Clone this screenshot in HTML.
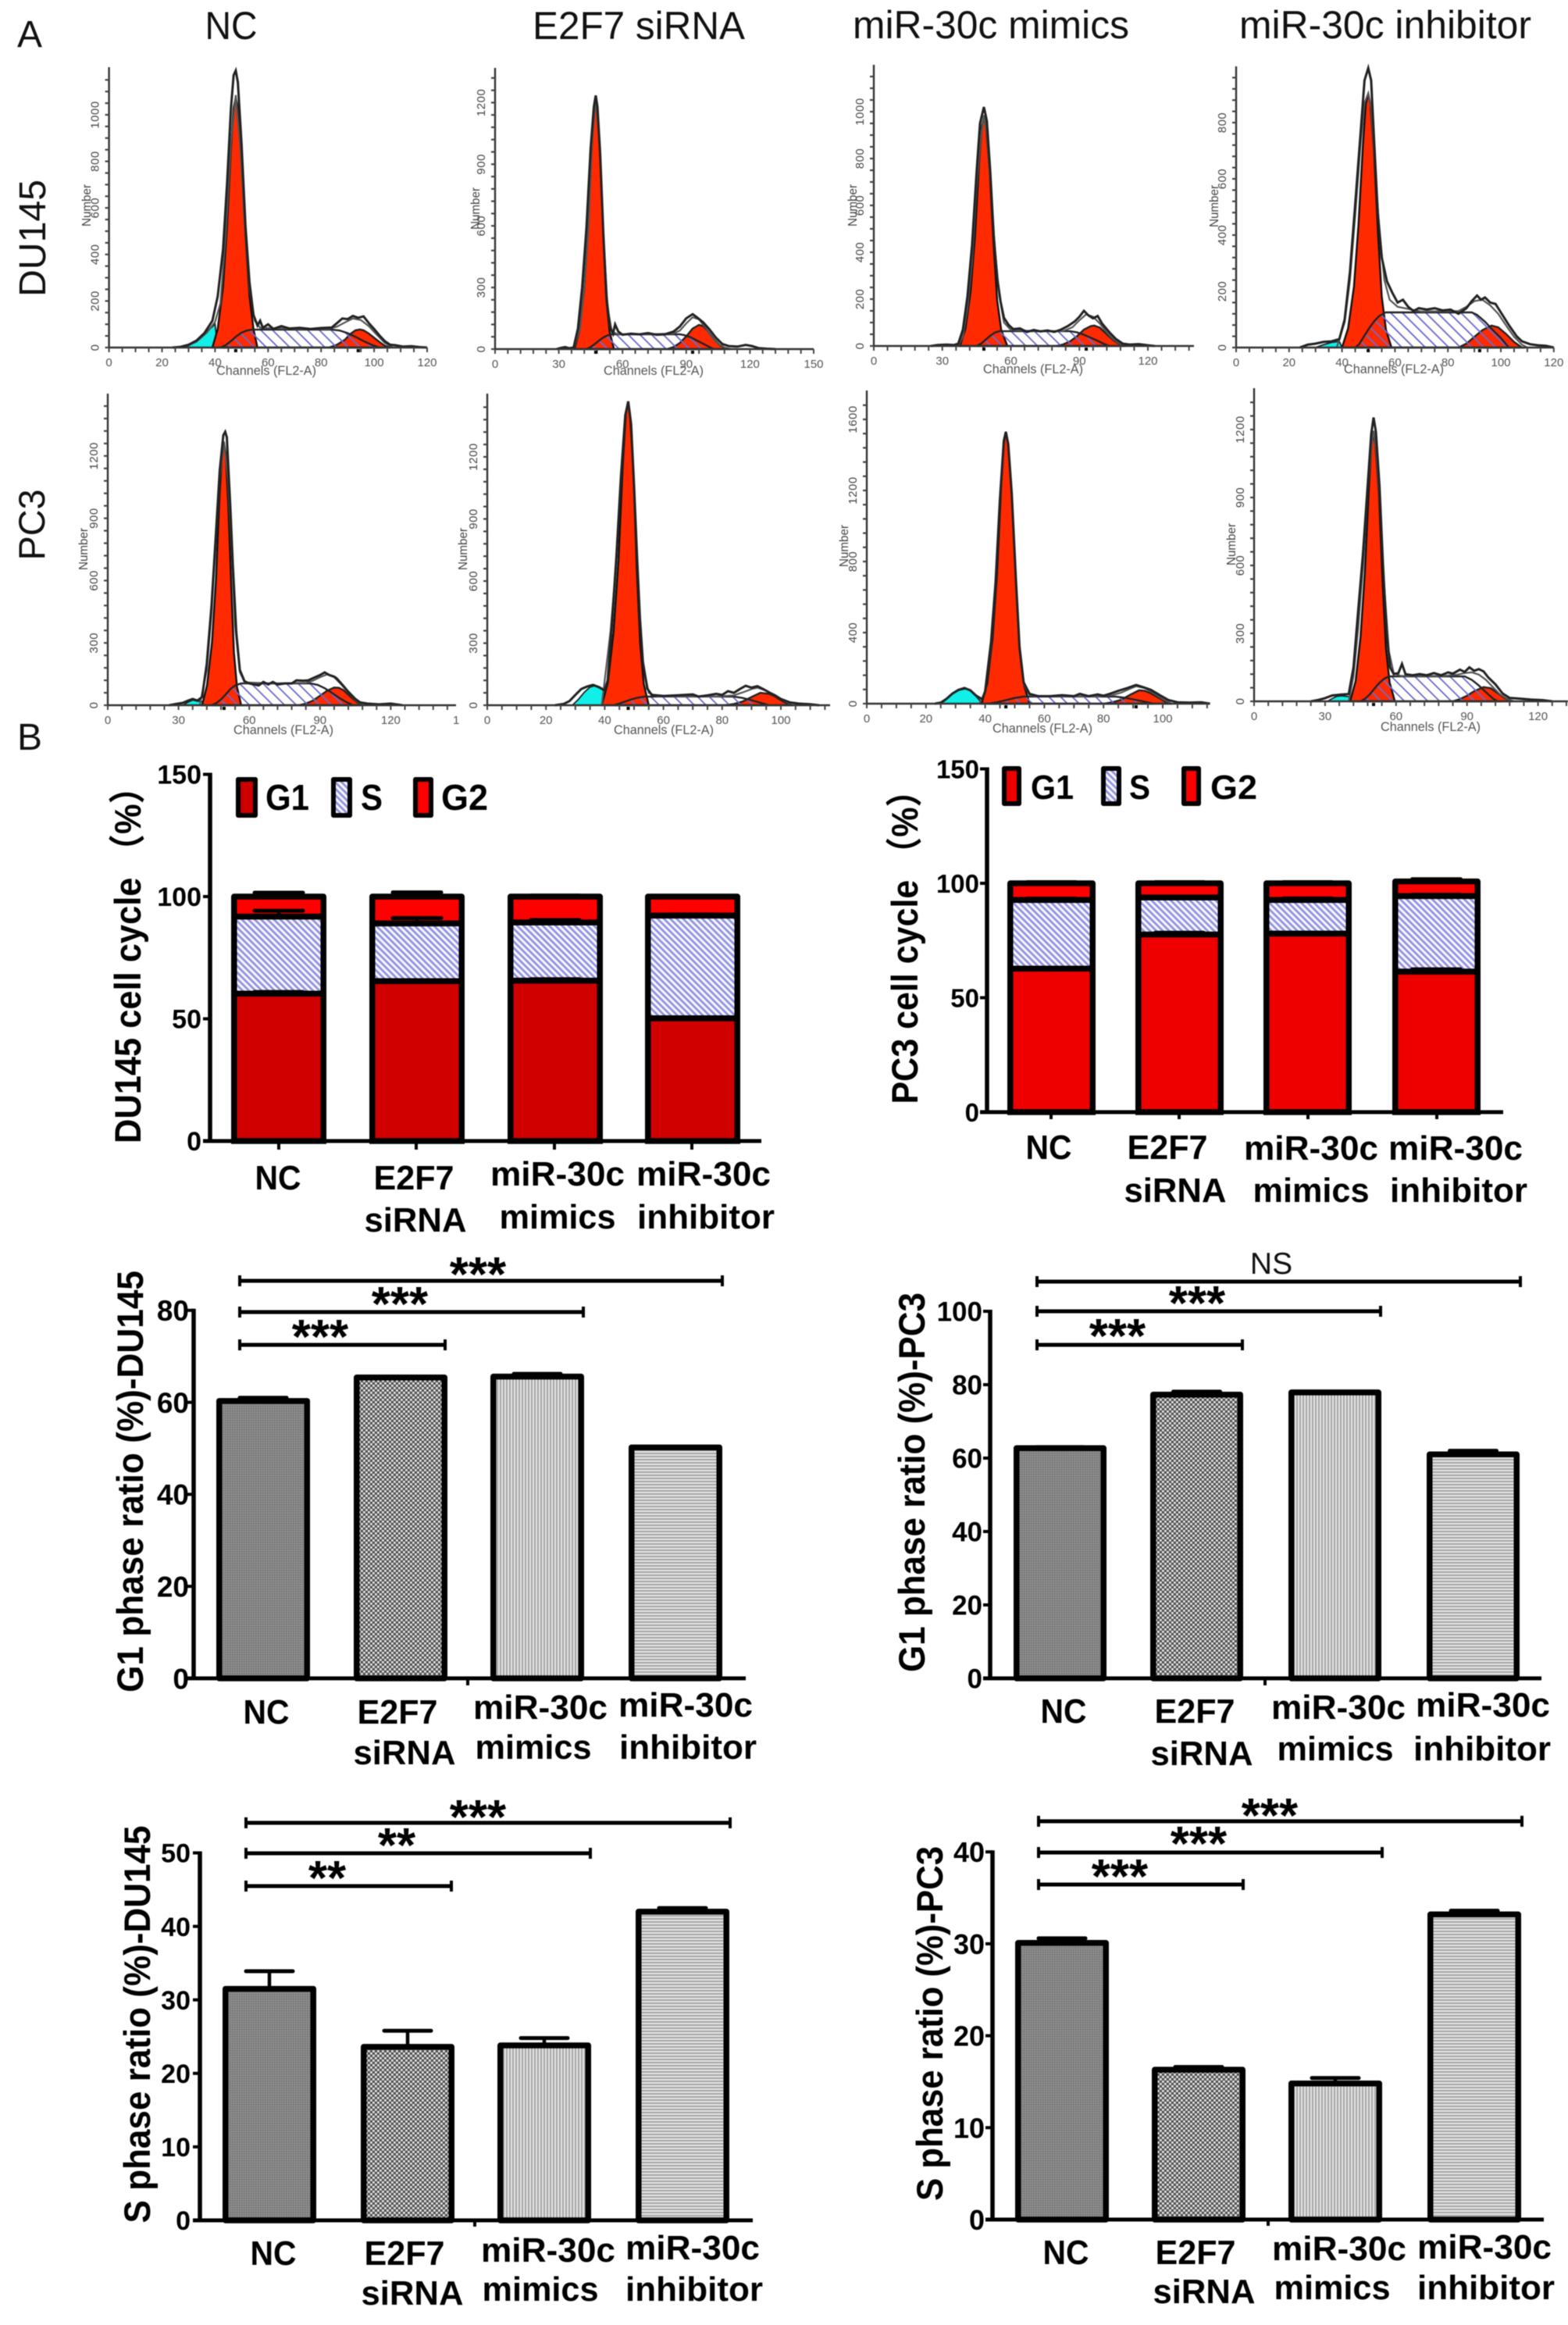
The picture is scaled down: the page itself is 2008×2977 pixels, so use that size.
<!DOCTYPE html>
<html lang="en">
<head>
<meta charset="utf-8">
<title>Cell cycle analysis figure</title>
<style>
html,body{margin:0;padding:0;background:#fff;}
svg{display:block;font-family:"Liberation Sans","Noto Sans CJK SC",sans-serif;filter:blur(0.6px);}
</style>
</head>
<body>
<svg id="figure" xmlns="http://www.w3.org/2000/svg" width="2008" height="2977" viewBox="0 0 2008 2977">
<defs>
<pattern id="hatchS" patternUnits="userSpaceOnUse" width="5.8" height="5.8" patternTransform="rotate(-45)">
<rect width="5.8" height="5.8" fill="#f6f6fe"/><rect width="2.7" height="5.8" fill="#9090e0"/>
</pattern>
<pattern id="histHatch" patternUnits="userSpaceOnUse" width="10.6" height="10.6" patternTransform="rotate(-45)">
<rect width="1.8" height="10.6" fill="#6a6ad0"/>
</pattern>
<pattern id="barDark" patternUnits="userSpaceOnUse" width="3" height="3">
<rect width="3" height="3" fill="#8c8c8c"/><rect width="1.5" height="1.5" fill="#6c6c6c"/>
</pattern>
<pattern id="barCheck" patternUnits="userSpaceOnUse" width="6" height="6">
<rect width="6" height="6" fill="#505050"/><rect width="2.8" height="2.8" fill="#e6e6e6"/><rect x="3" y="3" width="2.8" height="2.8" fill="#e6e6e6"/>
</pattern>
<pattern id="barVert" patternUnits="userSpaceOnUse" width="4" height="4">
<rect width="4" height="4" fill="#e6e6e6"/><rect width="2" height="4" fill="#a4a4a4"/>
</pattern>
<pattern id="barHoriz" patternUnits="userSpaceOnUse" width="4" height="4">
<rect width="4" height="4" fill="#e6e6e6"/><rect width="4" height="2" fill="#a4a4a4"/>
</pattern>
</defs>
<rect width="2008" height="2977" fill="#fff"/>

<text x="22" y="60" font-size="48" fill="#111">A</text>
<text x="22" y="960" font-size="48" fill="#111">B</text>
<text x="296" y="50" font-size="50" text-anchor="middle" fill="#111" textLength="67" lengthAdjust="spacingAndGlyphs">NC</text>
<text x="818" y="50" font-size="50" text-anchor="middle" fill="#111" textLength="272" lengthAdjust="spacingAndGlyphs">E2F7 siRNA</text>
<text x="1269" y="49" font-size="50" text-anchor="middle" fill="#111" textLength="354" lengthAdjust="spacingAndGlyphs">miR-30c mimics</text>
<text x="1774" y="49" font-size="50" text-anchor="middle" fill="#111" textLength="374" lengthAdjust="spacingAndGlyphs">miR-30c inhibitor</text>
<text transform="translate(58 305) rotate(-90)" font-size="48" text-anchor="middle" fill="#111" textLength="150" lengthAdjust="spacingAndGlyphs">DU145</text>
<text transform="translate(57 672) rotate(-90)" font-size="47" text-anchor="middle" fill="#111" textLength="91" lengthAdjust="spacingAndGlyphs">PC3</text>

<g>
<rect x="305" y="998" width="22" height="46" fill="#cc0000" stroke="#000" stroke-width="6" stroke-linejoin="round"/>
<text x="340" y="1037" font-size="46" font-weight="bold" textLength="56" lengthAdjust="spacingAndGlyphs">G1</text>
<rect x="427" y="998" width="21" height="46" fill="url(#hatchS)" stroke="#000" stroke-width="6" stroke-linejoin="round"/>
<text x="462" y="1037" font-size="46" font-weight="bold" textLength="28" lengthAdjust="spacingAndGlyphs">S</text>
<rect x="532" y="998" width="20" height="46" fill="#ff0000" stroke="#000" stroke-width="6" stroke-linejoin="round"/>
<text x="565" y="1037" font-size="46" font-weight="bold" textLength="60" lengthAdjust="spacingAndGlyphs">G2</text>
</g>
<g>
<rect x="1286" y="984" width="19" height="45" fill="#ee0000" stroke="#000" stroke-width="6" stroke-linejoin="round"/>
<text x="1320" y="1023" font-size="44" font-weight="bold" textLength="55" lengthAdjust="spacingAndGlyphs">G1</text>
<rect x="1413" y="984" width="20" height="45" fill="url(#hatchS)" stroke="#000" stroke-width="6" stroke-linejoin="round"/>
<text x="1446" y="1023" font-size="44" font-weight="bold" textLength="27" lengthAdjust="spacingAndGlyphs">S</text>
<rect x="1516" y="984" width="19" height="45" fill="#ff0000" stroke="#000" stroke-width="6" stroke-linejoin="round"/>
<text x="1550" y="1023" font-size="44" font-weight="bold" textLength="60" lengthAdjust="spacingAndGlyphs">G2</text>
</g>
</svg>

<script>
// ---- Bar chart data ----
const categoryLines = ['NC','E2F7','siRNA','miR-30c','mimics','miR-30c','inhibitor'];
const stackTicks = [0,50,100,150];
const g1DuTicks = [0,20,40,60,80];
const g1PcTicks = [0,20,40,60,80,100];
const sDuTicks = [0,10,20,30,40,50];
const sPcTicks = [0,10,20,30,40];

const duG1 = [60.3,65.4,65.6,50.2];
const duG1Err = [0.7,0.2,0.6,0.1];
const duS = [31.5,23.6,23.8,42];
const duSErr = [2.4,2.2,1,0.5];
const duG2 = [8.2,11,10.6,7.8];
const duG2Err = [1.6,1.7,0.4,0.3];

const pcG1 = [62.7,77.6,78,61.4];
const pcG1Err = [0.3,0.8,0.1,1];
const pcS = [30,16.2,14.7,33];
const pcSErr = [0.6,0.4,0.7,0.6];
const pcG2 = [7.3,6.2,7.3,6.4];
const pcG2Err = [0.5,0.5,0.5,1];

const g1DuValues = [60.3,65.4,65.6,50.2];
const g1DuErrors = [0.7,0.2,0.6,0];
const g1PcValues = [62.7,77.3,77.9,61];
const g1PcErrors = [0.3,0.8,0.1,1];
const sDuValues = [31.5,23.6,23.8,42];
const sDuErrors = [2.4,2.2,1,0.5];
const sPcValues = [30.1,16.3,14.8,33.2];
const sPcErrors = [0.5,0.3,0.6,0.4];

// ---- Flow histogram data: [channel, count] ----
const p1Cyan = [[28.7,0],[30,8],[32,20],[34,40],[36,60],[38,80],[40,100],[41,0]];
const p1G1 = [[39,0],[41,80],[43,260],[44.5,520],[46,860],[47,1030],[47.8,1073],[48.6,1030],[50,830],[51.5,480],[53,220],[54.5,80],[56,0]];
const p1S = [[42,0],[44,10],[46,28],[48,48],[50,64],[52,73],[54,77],[70,77],[84,77],[87,73],[90,62],[93,46],[96,28],[99,12],[102,0]];
const p1G2 = [[83,0],[86,12],[89,34],[91,58],[93,74],[94.6,78],[96,74],[98,60],[100,42],[102,24],[104,8],[106,0]];
const p1Fit = [[28,0],[33,25],[37,65],[40,110],[42,190],[44,480],[46,880],[47.8,1085],[49.5,860],[51,560],[53,250],[55,115],[57,85],[70,80],[83,80],[86,90],[89,108],[92,125],[95,118],[98,92],[101,55],[104,20],[107,0]];
const p1Raw = [[24,0],[27,3],[30,12],[33,30],[36,62],[39,115],[41,220],[43,420],[44.5,700],[46,1030],[47,1170],[47.8,1190],[48.6,1140],[50,870],[51.5,520],[53,280],[54.5,140],[56,95],[57,115],[58,85],[60,100],[62,80],[65,92],[68,82],[72,85],[76,80],[80,84],[84,86],[86,105],[88,125],[90,122],[92,136],[94,128],[96,134],[98,105],[100,80],[102,52],[104,28],[106,12],[108,10],[111,4],[114,6],[117,2],[120,0]];
const p1Marks = [47.8,94];

const p2Cyan = [[30,0],[32,10],[34,8],[36,3]];
const p2G1 = [[37.4,0],[39.7,91],[41.9,291],[43.7,582],[45.4,970],[46.5,1164],[47.4,1213],[48.2,1164],[49.5,934],[51,546],[52.4,243],[53.9,85],[56,0]];
const p2S = [[43,0],[45,10],[47,25],[49,42],[51,57],[53,67],[55,72],[70,72],[87,72],[89,68],[92,58],[95,42],[98,26],[101,10],[103,0]];
const p2G2 = [[81,0],[84,10],[87,30],[90,62],[93,100],[96,118],[98,112],[100,90],[103,50],[106,18],[109,0]];
const p2Fit = [[37,0],[40,100],[42,300],[44,600],[45.5,990],[47.4,1225],[49.5,940],[51,555],[53,200],[55,85],[58,72],[72,72],[84,76],[87,90],[90,125],[93,155],[96,145],[99,105],[102,60],[105,25],[108,8],[111,0]];
const p2Raw = [[29,0],[31,6],[33,10],[35,4],[37,8],[39,100],[41,300],[43,590],[45,980],[46.5,1180],[47.4,1235],[48.2,1180],[49.5,950],[51,560],[52.4,260],[54,110],[55.5,75],[56.5,120],[58,85],[60,70],[64,75],[68,72],[72,78],[76,70],[80,72],[84,85],[87,110],[90,150],[93,170],[95,155],[98,130],[101,95],[104,55],[107,25],[110,15],[114,12],[118,20],[121,15],[124,5],[128,2],[132,0]];
const p2Marks = [47.4,93];

const p3Cyan = [[30,0],[32,5],[35,4],[37,0]];
const p3G1 = [[37.7,0],[40.1,73],[42.4,234],[44.3,469],[46.1,782],[47.3,938],[48.2,977],[49.1,938],[50.7,752],[52.4,440],[54,195],[55.8,68],[58.5,0]];
const p3S = [[45,0],[47,10],[49,27],[51,44],[53,57],[55,63],[70,63],[86,63],[89,58],[92,48],[95,35],[98,22],[101,8],[103,0]];
const p3G2 = [[80,0],[83,7],[86,20],[89,42],[92,70],[95,85],[96.5,87],[99,78],[102,50],[105,24],[108,6],[110,0]];
const p3Fit = [[37,0],[39,40],[41,160],[43,360],[45,680],[47,900],[48.2,985],[49.5,900],[51,700],[53,420],[55,210],[57,100],[60,68],[72,63],[83,64],[87,80],[90,110],[93,135],[96,125],[99,95],[102,58],[105,28],[108,8],[111,0]];
const p3Raw = [[25,0],[28,4],[32,6],[35,4],[37,10],[39,70],[41,210],[43,430],[45,740],[46.5,950],[48.2,1020],[49.5,960],[51,740],[52.5,470],[54,290],[55.5,190],[57,120],[59,90],[61,72],[64,75],[67,60],[70,68],[73,62],[76,66],[79,60],[82,70],[85,85],[88,105],[90,125],[92,150],[94,130],[96,118],[98,128],[100,95],[103,60],[106,30],[109,10],[112,6],[116,8],[120,3],[123,0]];
const p3Marks = [48.2,93];

const p4Cyan = [[30,0],[33,10],[36,18],[39,22],[40,0]];
const p4G1 = [[40,0],[42.3,68],[44.5,217],[46.2,433],[47.9,722],[49,867],[49.9,903],[50.7,867],[52.1,695],[53.6,406],[55,181],[56.6,63],[58.7,0]];
const p4S = [[45,0],[46.5,12],[48,35],[50,65],[52,92],[54,112],[56.5,125],[72,125],[89,125],[91,116],[94,92],[97,62],[100,34],[103,0]];
const p4G2 = [[84,0],[87,14],[90,38],[93,62],[96.5,78],[99,72],[102,48],[105,20],[108,0]];
const p4Fit = [[38,0],[41,90],[43,240],[45,470],[47,720],[48.5,870],[49.9,905],[51,850],[52.5,640],[54,430],[56,240],[58,170],[61,145],[70,128],[84,130],[87,145],[90,165],[93,170],[96,150],[99,120],[102,78],[105,38],[108,10],[110,0]];
const p4Raw = [[24,0],[27,10],[30,14],[33,20],[36,22],[39,30],[41,100],[43,270],[45,510],[47,760],[48.5,950],[49.9,994],[51,950],[52.2,720],[53.5,480],[55,320],[57,235],[59,195],[61,160],[63,170],[65,145],[67,130],[69,140],[72,135],[75,140],[78,132],[81,135],[84,120],[87,140],[89,165],[91,185],[92.5,170],[94,178],[96,160],[98,155],[100,125],[103,80],[106,40],[108,22],[111,12],[114,8],[117,6],[120,0]];
const p4Marks = [49.9,92];

const p5Cyan = [[32,0],[34,15],[36,25],[38,20],[40,18],[41,0]];
const p5G1 = [[40,0],[42.1,95],[44.2,303],[45.9,606],[47.4,1010],[48.5,1212],[49.3,1263],[50,1212],[51.1,973],[52.4,568],[53.5,253],[54.8,88],[56.6,0]];
const p5S = [[44,0],[46,10],[48,28],[50,52],[52,78],[54,95],[56.5,105],[72,105],[86,105],[89,98],[92,82],[95,60],[98,36],[101,16],[104,0]];
const p5G2 = [[81,0],[84,8],[87,22],[90,46],[93,70],[96,85],[98,84],[100,72],[103,40],[106,12],[108,0]];
const p5Fit = [[39,0],[42,170],[44,440],[46,820],[47.5,1090],[49.3,1270],[51,1080],[52.5,750],[54,380],[56,160],[58,110],[70,105],[84,108],[87,118],[90,135],[93,148],[96,135],[99,100],[102,62],[105,25],[108,0]];
const p5Raw = [[26,0],[29,6],[32,12],[34,22],[36,30],[38,22],[40,40],[42,200],[44,480],[46,850],[47.5,1130],[49,1300],[49.8,1316],[50.5,1290],[52,950],[53,680],[54.5,350],[56,170],[58,115],[60,105],[62,100],[64,95],[66,112],[68,100],[70,112],[72,100],[75,105],[78,105],[80,120],[83,118],[85,120],[87,130],[90,145],[92,158],[94,145],[96,138],[97,130],[99,105],[102,65],[105,30],[107,14],[110,8],[115,4],[120,8],[125,0]];
const p5Marks = [49.3];

const p6Cyan = [[29,0],[31,28],[33,62],[35,88],[36.5,94],[38,85],[40,68],[41,0]];
const p6G1 = [[39,0],[41.1,110],[43,352],[44.7,705],[46.2,1174],[47.2,1409],[48,1468],[48.6,1409],[49.8,1130],[50.9,661],[52.1,294],[53.3,103],[55,0]];
const p6S = [[43,0],[45,8],[47,18],[49,28],[51,36],[53.5,42],[70,42],[84,42],[87,35],[90,24],[93,12],[96,0]];
const p6G2 = [[81,0],[84,6],[87,18],[90,40],[93,60],[96,55],[98,42],[100,24],[103,0]];
const p6Fit = [[39,0],[42,360],[44,700],[45.5,1080],[47,1390],[48,1465],[49,1350],[50,1040],[51,700],[52,400],[53,200],[55,60],[58,42],[78,42],[84,48],[87,62],[90,78],[92,85],[95,70],[98,45],[101,22],[104,0]];
const p6Raw = [[23,0],[26,6],[28,20],[30,50],[32,78],[34,90],[36,98],[38,88],[40,72],[41,120],[42.5,400],[44,720],[45.5,1100],[47,1400],[48,1468],[49,1360],[50,1060],[51,720],[52,420],[53,210],[54.5,80],[56,50],[60,45],[65,48],[70,52],[72,42],[75,48],[78,55],[80,50],[82,68],[84,60],[86,78],[88,94],[90,85],[92,92],[94,78],[96,62],[98,48],[100,30],[103,14],[106,8],[110,5],[113,0]];
const p6Marks = [48];

const p7Cyan = [[25,0],[27,25],[29,55],[31,75],[33.5,85],[35,72],[37,40],[38.5,12],[39,0]];
const p7G1 = [[38.8,0],[40.7,115],[42.5,367],[44,734],[45.4,1224],[46.3,1469],[47,1530],[47.7,1469],[49,1178],[50.4,689],[51.6,306],[53.1,107],[55,0]];
const p7S = [[41,0],[44,8],[47,20],[50,32],[53,40],[70,40],[84,40],[87,34],[90,24],[93,14],[97,0]];
const p7G2 = [[80,0],[83,8],[86,22],[89,50],[92,75],[94,72],[96,58],[99,30],[102,0]];
const p7Fit = [[38,0],[40,60],[42,320],[43.5,650],[45,1130],[46.3,1470],[47,1525],[47.8,1450],[49,1170],[50.4,690],[51.6,310],[53,110],[55,48],[58,40],[78,40],[83,48],[86,62],[89,85],[91,98],[94,88],[97,58],[100,26],[103,0]];
const p7Raw = [[23,0],[25,6],[27,28],[29,58],[31,78],[33,88],[35,75],[37,45],[39,25],[40,70],[42,350],[43.5,680],[45,1150],[46.3,1480],[47,1530],[47.8,1460],[49,1180],[50.4,700],[51.6,320],[53,120],[55,55],[58,42],[62,42],[66,48],[70,42],[72,55],[75,42],[78,52],[80,45],[82,55],[85,72],[88,88],[91,105],[93,95],[96,78],[99,48],[102,20],[105,8],[109,6],[113,8],[116,0]];
const p7Marks = [47,91];

const p8Cyan = [[31,0],[33,12],[35,22],[37,24],[39,22],[40.5,20],[41,0]];
const p8G1 = [[40.6,0],[42.9,89],[45,283],[46.8,566],[48.5,944],[49.6,1133],[50.5,1180],[51.3,1133],[52.8,909],[54.3,531],[55.7,236],[57.3,83],[59.5,0]];
const p8S = [[45,0],[47,12],[49,32],[51,58],[53,82],[55,100],[57,110],[72,110],[89,110],[92,95],[95,70],[98,40],[101,12],[103,0]];
const p8G2 = [[84,0],[87,10],[90,25],[93,45],[97,63],[100,58],[103,36],[106,14],[109,0]];
const p8Fit = [[40,0],[42,110],[44,320],[46,590],[48,930],[49.6,1120],[50.5,1195],[51.5,1120],[53,900],[55,510],[57,220],[59,125],[62,112],[80,112],[86,118],[89,125],[92,128],[95,118],[98,95],[101,62],[104,30],[107,10],[110,0]];
const p8Raw = [[24,0],[27,6],[30,14],[33,26],[37,30],[40,32],[42,150],[44,400],[46,650],[48,950],[49.5,1180],[50.5,1253],[51.5,1190],[53,950],[54.5,600],[56,300],[57.5,150],[59,120],[61,125],[62.5,165],[64,120],[67,115],[70,120],[73,115],[76,125],[79,115],[82,128],[84,122],[87,140],[89,130],[91,150],[93,135],[95,142],[97,132],[99,105],[102,75],[105,35],[108,15],[112,12],[117,8],[122,5],[126,0]];
const p8Marks = [50.5];

const histXLabels20 = [0,20,40,60,80,100,120];
const histXLabels30 = [0,30,60,90,120];
const histXLabels30b = [0,30,60,90,120,150];
const histXLabels20b = [0,20,40,60,80,100];
const histYLabels1000 = [0,200,400,600,800,1000];
const histYLabels800 = [0,200,400,600,800];
const histYLabels1200 = [0,300,600,900,1200];
const histYLabels1600 = [0,400,800,1200,1600];

// ---- Rendering ----
const NS = 'http://www.w3.org/2000/svg';
const root = document.getElementById('figure');
const categoryFit = [59,103,131,172,149,172,176];

function add(parent, tag, attrs, name) {
  const el = document.createElementNS(NS, tag);
  for (const k in attrs) el.setAttribute(k, attrs[k]);
  
  
  parent.appendChild(el);
  return el;
}
function addText(parent, str, attrs, name) {
  const el = add(parent, 'text', attrs, name);
  el.textContent = str;
  return el;
}

function drawPanel(p) {
  const g = add(root, 'g', {}, p.name);
  const X = c => p.ax + c * p.xk;
  const Y = n => p.base - n * p.yk;
  const pts = a => a.map(d => X(d[0]).toFixed(1) + ',' + Y(d[1]).toFixed(1)).join(' ');
  add(g, 'polygon', {points: pts(p.cyan), fill: '#10f0e8', stroke: '#222', 'stroke-width': 1.8}, 'apoptotic-peak');
  add(g, 'polygon', {points: pts(p.g1), fill: '#ff2a00', stroke: '#111', 'stroke-width': 2.4}, 'g1-peak');
  add(g, 'polygon', {points: pts(p.g2), fill: '#ff2a00', stroke: '#222', 'stroke-width': 2.4}, 'g2-peak');
  add(g, 'polygon', {points: pts(p.s), fill: 'url(#histHatch)', stroke: '#222', 'stroke-width': 2.4}, 's-phase-region');
  add(g, 'polyline', {points: pts(p.fit), fill: 'none', stroke: '#555', 'stroke-width': 2.2}, 'fit-curve');
  add(g, 'polyline', {points: pts(p.raw), fill: 'none', stroke: '#222', 'stroke-width': 3}, 'raw-histogram-curve');
  add(g, 'line', {x1: p.ax, x2: p.ax, y1: p.top, y2: p.base + 1, stroke: '#333', 'stroke-width': 2.4}, 'y-axis');
  add(g, 'line', {x1: p.ax, x2: p.right, y1: p.base, y2: p.base, stroke: '#333', 'stroke-width': 2.4}, 'x-axis');
  for (let c = 0; X(c) <= p.right + 0.5; c += p.xMinor) {
    add(g, 'line', {x1: X(c), x2: X(c), y1: p.base, y2: p.base + 6, stroke: '#444', 'stroke-width': 2}, 'x-tick');
  }
  for (let n = 0; Y(n) >= p.top + 3; n += p.yMinor) {
    add(g, 'line', {x1: p.ax - 5, x2: p.ax, y1: Y(n), y2: Y(n), stroke: '#444', 'stroke-width': 2.2}, 'y-tick');
  }
  p.xLabels.forEach(v => {
    addText(g, String(v), {x: X(v), y: p.base + 24, 'font-size': 15, 'text-anchor': 'middle', fill: '#555'}, 'x-tick-label');
  });
  p.yLabels.forEach(v => {
    addText(g, String(v), {transform: 'translate(' + (p.ax - 13) + ' ' + Y(v) + ') rotate(-90)', 'font-size': 15, 'text-anchor': 'middle', fill: '#444', 'letter-spacing': 0.5}, 'y-tick-label');
  });
  if (p.clipLabel) {
    addText(g, p.clipLabel, {x: p.right - 4, y: p.base + 24, 'font-size': 15, fill: '#555'}, 'x-tick-label-clipped');
  }
  addText(g, 'Channels (FL2-A)', {x: p.chanX, y: p.chanY, 'font-size': 17, 'text-anchor': 'middle', fill: '#555', textLength: 128, lengthAdjust: 'spacingAndGlyphs'}, 'x-axis-title');
  addText(g, 'Number', {transform: 'translate(' + p.numX + ' ' + p.numY + ') rotate(-90)', 'font-size': 16, 'text-anchor': 'middle', fill: '#444', textLength: 54, lengthAdjust: 'spacingAndGlyphs'}, 'y-axis-title');
  p.marks.forEach(c => {
    add(g, 'rect', {x: X(c) - 2, y: p.base + 2, width: 4, height: 4, fill: '#000'}, 'peak-marker');
  });
}

const panels = [
 {name:'histogram-du145-nc',ax:139.6,xk:3.395,base:445,yk:0.298,top:86,right:547,xMinor:5,yMinor:50,xLabels:histXLabels20,yLabels:histYLabels1000,chanX:341,chanY:480,numX:116,numY:263,cyan:p1Cyan,g1:p1G1,s:p1S,g2:p1G2,fit:p1Fit,raw:p1Raw,marks:p1Marks},
 {name:'histogram-du145-e2f7-sirna',ax:634,xk:2.72,base:447,yk:0.263,top:87,right:1042,xMinor:6,yMinor:60,xLabels:histXLabels30b,yLabels:histYLabels1200,chanX:837,chanY:480,numX:614,numY:267,cyan:p2Cyan,g1:p2G1,s:p2S,g2:p2G2,fit:p2Fit,raw:p2Raw,marks:p2Marks},
 {name:'histogram-du145-mimics',ax:1119,xk:2.925,base:443,yk:0.3,top:83,right:1529,xMinor:6,yMinor:50,xLabels:histXLabels30,yLabels:histYLabels1000,chanX:1323,chanY:478,numX:1097,numY:263,cyan:p3Cyan,g1:p3G1,s:p3S,g2:p3G2,fit:p3Fit,raw:p3Raw,marks:p3Marks},
 {name:'histogram-du145-inhibitor',ax:1583,xk:3.39,base:445,yk:0.36,top:85,right:1990,xMinor:5,yMinor:40,xLabels:histXLabels20,yLabels:histYLabels800,chanX:1785,chanY:478,numX:1560,numY:264,cyan:p4Cyan,g1:p4G1,s:p4S,g2:p4G2,fit:p4Fit,raw:p4Raw,marks:p4Marks},
 {name:'histogram-pc3-nc',ax:138,xk:3.02,base:903,yk:0.266,top:504,right:584,xMinor:6,yMinor:60,xLabels:histXLabels30,yLabels:histYLabels1200,clipLabel:'1',chanX:363,chanY:940,numX:112,numY:703,cyan:p5Cyan,g1:p5G1,s:p5S,g2:p5G2,fit:p5Fit,raw:p5Raw,marks:p5Marks},
 {name:'histogram-pc3-e2f7-sirna',ax:624,xk:3.76,base:903,yk:0.265,top:504,right:1063,xMinor:5,yMinor:60,xLabels:histXLabels20b,yLabels:histYLabels1200,chanX:850,chanY:940,numX:598,numY:703,cyan:p6Cyan,g1:p6G1,s:p6S,g2:p6G2,fit:p6Fit,raw:p6Raw,marks:p6Marks},
 {name:'histogram-pc3-mimics',ax:1110,xk:3.79,base:901,yk:0.2275,top:500,right:1549,xMinor:5,yMinor:80,xLabels:histXLabels20b,yLabels:histYLabels1600,chanX:1335,chanY:938,numX:1086,numY:699,cyan:p7Cyan,g1:p7G1,s:p7S,g2:p7G2,fit:p7Fit,raw:p7Raw,marks:p7Marks},
 {name:'histogram-pc3-inhibitor',ax:1606,xk:3.03,base:898,yk:0.29,top:497,right:2008,xMinor:6,yMinor:60,xLabels:histXLabels30,yLabels:histYLabels1200,chanX:1832,chanY:936,numX:1582,numY:697,cyan:p8Cyan,g1:p8G1,s:p8S,g2:p8G2,fit:p8Fit,raw:p8Raw,marks:p8Marks}
];
panels.forEach(drawPanel);

function drawFrame(g, c) {
  const Y = v => c.base - v * c.k;
  add(g, 'line', {x1: c.ax, x2: c.ax, y1: Y(c.ticks[c.ticks.length - 1]) - 2, y2: c.base + 2, stroke: '#000', 'stroke-width': 5.5}, 'y-axis');
  add(g, 'line', {x1: c.ax - 9, x2: c.right, y1: c.base, y2: c.base, stroke: '#000', 'stroke-width': 5}, 'x-axis');
  c.ticks.forEach(v => {
    add(g, 'line', {x1: c.ax - 9, x2: c.ax, y1: Y(v), y2: Y(v), stroke: '#000', 'stroke-width': 4}, 'y-tick');
    addText(g, String(v), {x: c.tickRight, y: Y(v) + c.tickFont * 0.36, 'font-size': c.tickFont, 'font-weight': 'bold', 'text-anchor': 'end'}, 'y-tick-label');
  });
  c.xTicks.forEach(x => {
    add(g, 'line', {x1: x, x2: x, y1: c.base, y2: c.tickBottom, stroke: '#000', 'stroke-width': 4}, 'x-tick');
  });
  addText(g, c.title, {transform: 'translate(' + c.titleX + ' ' + c.titleY + ') rotate(-90)', 'font-size': 47, 'font-weight': 'bold', 'text-anchor': 'middle', textLength: c.titleLen, lengthAdjust: 'spacingAndGlyphs'}, 'y-axis-title');
  categoryLines.forEach((t, i) => {
    addText(g, t, {x: c.labelX[i], y: c.labelY[i], 'font-size': 44, 'font-weight': 'bold', 'text-anchor': 'middle', textLength: categoryFit[i], lengthAdjust: 'spacingAndGlyphs'}, 'category-label');
  });
}

function drawError(g, x, top, value, err, halfCap, k, base) {
  const yv = base - value * k;
  const ye = base - (value + err) * k;
  add(g, 'line', {x1: x, x2: x, y1: yv, y2: ye, stroke: '#000', 'stroke-width': 4.5}, 'error-stem');
  add(g, 'line', {x1: x - halfCap, x2: x + halfCap, y1: ye, y2: ye, stroke: '#000', 'stroke-width': 5, 'stroke-linecap': 'round'}, 'error-cap');
}

function drawStacked(c) {
  const g = add(root, 'g', {}, c.name);
  const sw = 7.5;
  c.barX.forEach((outer, i) => {
    const Y = v => c.base - v * c.k;
    const cx = outer + c.barW / 2;
    const t1 = c.g1[i];
    const t2 = t1 + c.s[i];
    const t3 = t2 + c.g2[i];
    const x = outer + sw / 2;
    const w = c.barW - sw;
    add(g, 'rect', {x: x, y: Y(t3), width: w, height: Y(t2) - Y(t3), fill: '#ff0000', stroke: '#000', 'stroke-width': sw, 'stroke-linejoin': 'round'}, 'bar-g2-' + i);
    add(g, 'rect', {x: x, y: Y(t2), width: w, height: Y(t1) - Y(t2), fill: 'url(#hatchS)', stroke: '#000', 'stroke-width': sw}, 'bar-s-' + i);
    add(g, 'rect', {x: x, y: Y(t1), width: w, height: c.base - Y(t1), fill: c.g1Fill, stroke: '#000', 'stroke-width': sw}, 'bar-g1-' + i);
    drawError(g, cx, 0, t3, c.g2Err[i], 31, c.k, c.base);
    drawError(g, cx, 0, t2, c.sErr[i], 31, c.k, c.base);
    drawError(g, cx, 0, t1, c.g1Err[i], 31, c.k, c.base);
  });
  drawFrame(g, c);
}

const barFills = ['url(#barDark)','url(#barCheck)','url(#barVert)','url(#barHoriz)'];

function drawBars(c) {
  const g = add(root, 'g', {}, c.name);
  const sw = 7.5;
  c.barX.forEach((outer, i) => {
    const y = c.base - c.values[i] * c.k;
    const cx = outer + c.barW / 2;
    if (c.errors[i] > 0) drawError(g, cx, 0, c.values[i], c.errors[i], 30, c.k, c.base);
    add(g, 'rect', {x: outer + sw / 2, y: y, width: c.barW - sw, height: c.base - y, fill: barFills[i], stroke: '#000', 'stroke-width': sw, 'stroke-linejoin': 'round'}, 'bar-' + i);
  });
  drawFrame(g, c);
  c.brackets.forEach(b => {
    add(g, 'line', {x1: b[0], x2: b[1], y1: b[2], y2: b[2], stroke: '#000', 'stroke-width': 5}, 'significance-bracket');
    add(g, 'line', {x1: b[0], x2: b[0], y1: b[2] - 7, y2: b[2] + 7, stroke: '#000', 'stroke-width': 4}, 'bracket-end');
    add(g, 'line', {x1: b[1], x2: b[1], y1: b[2] - 7, y2: b[2] + 7, stroke: '#000', 'stroke-width': 4}, 'bracket-end');
    if (b[3] === 'NS') {
      addText(g, 'NS', {x: b[4], y: b[5], 'font-size': 39, 'text-anchor': 'middle', fill: '#111'}, 'significance-label');
    } else {
      addText(g, b[3], {x: b[4], y: b[5] + 28, 'font-size': 62, 'font-weight': 'bold', 'text-anchor': 'middle'}, 'significance-label');
    }
  });
}

drawStacked({name:'chart-du145-cell-cycle',ax:269,base:1461,k:3.13,right:975,ticks:stackTicks,tickFont:34,tickRight:258,tickBottom:1472,
  xTicks:[357,533,710,886],barX:[296,473,650,826],barW:122,g1:duG1,s:duS,g2:duG2,g1Err:duG1Err,sErr:duSErr,g2Err:duG2Err,g1Fill:'#d00000',
  title:'DU145 cell cycle （%）',titleX:180,titleY:1225,titleLen:478,
  labelX:[356,530,532,714,714,901,904],labelY:[1523,1523,1577,1518,1573,1518,1573]});
drawStacked({name:'chart-pc3-cell-cycle',ax:1264,base:1424,k:2.93,right:1925,ticks:stackTicks,tickFont:33,tickRight:1254,tickBottom:1433,
  xTicks:[1346,1510,1675,1840],barX:[1290,1454,1618,1783],barW:113,g1:pcG1,s:pcS,g2:pcG2,g1Err:pcG1Err,sErr:pcSErr,g2Err:pcG2Err,g1Fill:'#ee0000',
  title:'PC3 cell cycle （%）',titleX:1175,titleY:1202,titleLen:423,
  labelX:[1343,1495,1505,1679,1679,1864,1868],labelY:[1484,1484,1539,1485,1539,1485,1539]});

drawBars({name:'chart-g1-ratio-du145',ax:248,base:2149,k:5.89,right:955,ticks:g1DuTicks,tickFont:37,tickRight:242,tickBottom:2158,
  xTicks:[599],barX:[277,453,628,805],barW:120,values:g1DuValues,errors:g1DuErrors,
  title:'G1 phase ratio (%)-DU145',titleX:183,titleY:1897,titleLen:540,
  labelX:[341,509,518,692,683,878,881],labelY:[2207,2207,2259,2201,2252,2198,2252],
  brackets:[[307,925,1640,'***',612,1625],[307,747,1680,'***',512,1663],[307,570,1722,'***',410,1705]]});
drawBars({name:'chart-g1-ratio-pc3',ax:1268,base:2149,k:4.7,right:1974,ticks:g1PcTicks,tickFont:35,tickRight:1258,tickBottom:2158,
  xTicks:[1620],barX:[1298,1473,1650,1827],barW:119,values:g1PcValues,errors:g1PcErrors,
  title:'G1 phase ratio (%)-PC3',titleX:1184,titleY:1898,titleLen:486,
  labelX:[1362,1530,1539,1714,1710,1899,1898],labelY:[2206,2206,2260,2201,2254,2198,2254],
  brackets:[[1328,1947,1641,'NS',1628,1631],[1328,1768,1679,'***',1533,1662],[1328,1591,1722,'***',1431,1704]]});
drawBars({name:'chart-s-ratio-du145',ax:256,base:2843,k:9.41,right:964,ticks:sDuTicks,tickFont:34,tickRight:244,tickBottom:2851,
  xTicks:[608],barX:[285,462,637,814],barW:120,values:sDuValues,errors:sDuErrors,
  title:'S phase ratio (%)-DU145',titleX:192,titleY:2592,titleLen:509,
  labelX:[350,518,528,702,692,887,889],labelY:[2900,2900,2951,2896,2946,2893,2946],
  brackets:[[315,935,2334,'***',612,2320],[315,756,2373,'**',508,2356],[315,578,2415,'**',419,2398]]});
drawBars({name:'chart-s-ratio-pc3',ax:1271,base:2842,k:11.77,right:1977,ticks:sPcTicks,tickFont:36,tickRight:1261,tickBottom:2850,
  xTicks:[1624],barX:[1300,1475,1650,1828],barW:120,values:sPcValues,errors:sPcErrors,
  title:'S phase ratio (%)-PC3',titleX:1207,titleY:2591,titleLen:454,
  labelX:[1365,1531,1542,1715,1706,1901,1903],labelY:[2899,2899,2949,2894,2944,2892,2944],
  brackets:[[1330,1949,2332,'***',1626,2318],[1330,1770,2372,'***',1535,2354],[1330,1592,2413,'***',1434,2396]]});
</script>
</body>
</html>
